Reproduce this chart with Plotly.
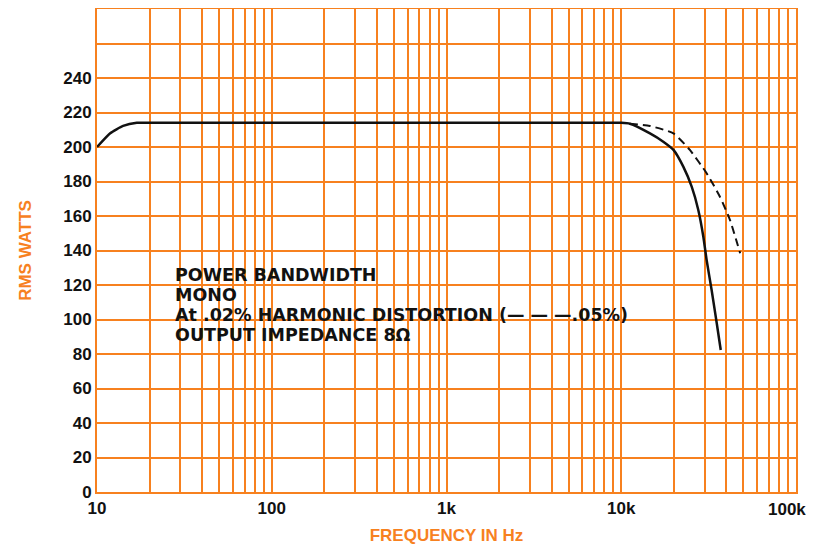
import plotly.graph_objects as go

# Data
solid_freq = [10, 11.9, 14.1, 16.9, 20, 100, 1000, 10000, 11200, 14600, 17400, 19900, 22650, 25300,
              27600, 29500, 30800, 32900, 35200, 37100]
solid_watts = [200, 208, 212.2, 214, 214, 214, 214, 214, 213.5, 207.9, 203.1, 198.3, 188.6, 177,
               163.5, 148, 134.5, 117.1, 97.8, 82.3]

dash_freq = [11200, 14600, 19900, 24700, 30800, 36700, 41900, 47900]
dash_watts = [213.5, 212.2, 207.9, 198.3, 184.8, 171.2, 157.7, 138.4]

x_tickvals = [m * 10 ** e for e in range(1, 5) for m in range(1, 10)] + [100000]
x_labels = {10: "10", 100: "100", 1000: "1k", 10000: "10k"}
x_ticktext = [x_labels.get(v, "") for v in x_tickvals]
last_x_label = "100k"

y_tickvals = list(range(0, 281, 20))
y_ticktext = [str(v) if v <= 240 else "" for v in y_tickvals]

note_lines = ["POWER BANDWIDTH", "MONO", "At .02% HARMONIC DISTORTION (— — —.05%)", "OUTPUT IMPEDANCE 8Ω"]
note_y = [126, 114.4, 102.8, 91.2]

ORANGE = "#f7811f"
FONT = "Liberation Sans"

fig = go.Figure()
fig.add_trace(go.Scatter(x=solid_freq, y=solid_watts, mode="lines",
                         line=dict(color="#111111", width=2.5, shape="spline", smoothing=0.5),
                         showlegend=False, hoverinfo="skip"))
fig.add_trace(go.Scatter(x=dash_freq, y=dash_watts, mode="lines",
                         line=dict(color="#111111", width=2, dash="8px,5px", shape="spline", smoothing=0.5),
                         showlegend=False, hoverinfo="skip"))

for txt, yy in zip(note_lines, note_y):
    fig.add_annotation(x=1.435, y=yy, xref="x", yref="y", showarrow=False,
                       text="<b>" + txt + "</b>", align="left",
                       xanchor="left", yanchor="middle",
                       font=dict(family="DejaVu Sans", size=17.5, color="#111111"))

# last tick label sits left of its gridline (as in the reference) so it stays inside the page
fig.add_annotation(x=5, y=0, xref="x", yref="paper", showarrow=False,
                   text="<b>" + last_x_label + "</b>", xanchor="right", yanchor="top",
                   xshift=12, yshift=-6,
                   font=dict(family=FONT, size=17, color="#111111"))

fig.update_xaxes(type="log", range=[0.99995, 5.00005], tickvals=x_tickvals, ticktext=x_ticktext,
                 showgrid=True, gridcolor=ORANGE, gridwidth=2,
                 showline=True, linecolor=ORANGE, linewidth=2, mirror=True,
                 ticks="", zeroline=False, automargin=False,
                 tickfont=dict(family=FONT, size=17, color="#111111", weight="bold"),
                 title=dict(text="<b>FREQUENCY IN Hz</b>", standoff=17,
                            font=dict(family=FONT, size=17, color=ORANGE)))
fig.update_yaxes(range=[0, 280], tickvals=y_tickvals, ticktext=y_ticktext,
                 showgrid=True, gridcolor=ORANGE, gridwidth=2,
                 showline=True, linecolor=ORANGE, linewidth=2, mirror=True,
                 ticks="", zeroline=False, automargin=False,
                 tickfont=dict(family=FONT, size=17, color="#111111", weight="bold"),
                 title=dict(text="<b>RMS WATTS</b>", standoff=27,
                            font=dict(family=FONT, size=17, color=ORANGE)))

# the page body adds an 8px margin; size and margins compensate so the plot sits where the reference has it
fig.update_layout(width=798, height=537, margin=dict(l=89, r=10, t=1, b=53),
                  paper_bgcolor="white", plot_bgcolor="white")

fig.write_html("out.html")
